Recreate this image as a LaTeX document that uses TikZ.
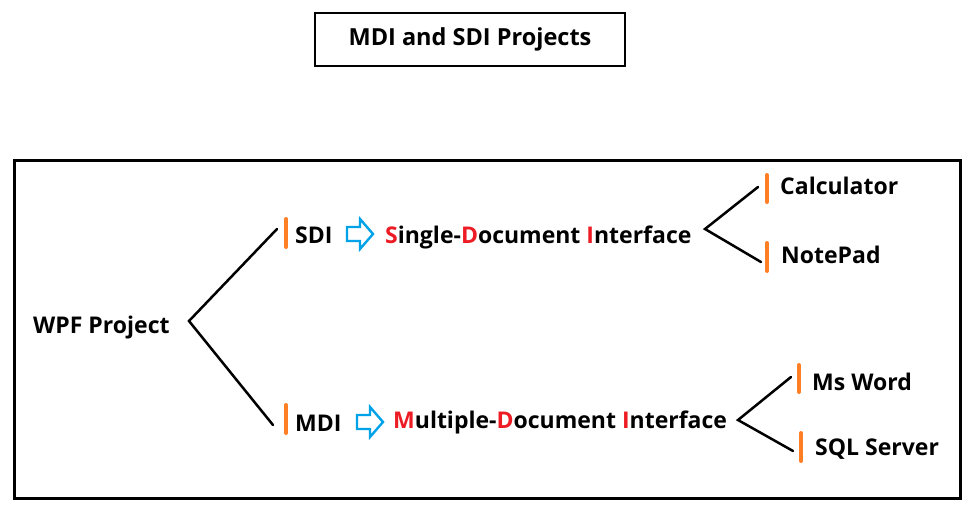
\documentclass[tikz,border=0pt]{standalone}
\usepackage{fontspec}
\setmainfont{Open Sans}
\definecolor{myorange}{HTML}{FF7F27}
\definecolor{myblue}{HTML}{00A2E8}
\definecolor{myred}{HTML}{ED1C24}
\newcommand{\R}[1]{\textcolor{myred}{#1}}
\begin{document}
\begin{tikzpicture}[x=1pt,y=-1pt,
  lbl/.style={anchor=west,inner sep=0pt,yshift=-2pt,font=\fontsize{23}{27}\selectfont\bfseries},
  branch/.style={line width=2.5pt,line cap=round},
  obar/.style={myorange,line width=4pt,line cap=round},
  barrow/.style={myblue,line width=2.4pt,line join=miter}]
\useasboundingbox (0,0) rectangle (977,525);
\fill[white] (0,0) rectangle (977,525);
% title
\node[draw,line width=2.2pt,minimum width=310pt,minimum height=53pt,inner sep=0pt,
  font=\fontsize{23.5}{27}\selectfont\bfseries] (title) at (470,39.5) {MDI and SDI Projects};
% frame
\node[draw,line width=3pt,minimum width=946pt,minimum height=338pt,inner sep=0pt] (frame) at (487,329) {};
% root
\node[lbl] (wpf) at (33,326) {WPF Project};
\coordinate (wv) at (189,321);
\coordinate (wu) at (277,229);
\coordinate (wd) at (273,425);
\draw[branch] (wu) -- (wv) -- (wd);
% SDI
\coordinate (sb1) at (286,219); \coordinate (sb2) at (286,247);
\draw[obar] (sb1) -- (sb2);
\node[lbl] (sdi) at (295,233) {SDI};
\node[lbl] (sdifull) at (385,235) {\R{S}ingle-\R{D}ocument \R{I}nterface};
\draw[barrow] (347,227) -- (360,227) -- (360,219) -- (373,234) -- (360,249) -- (360,241) -- (347,241) -- cycle;
\coordinate (sv) at (705,229);
\coordinate (su) at (758,187);
\coordinate (sd) at (761,262);
\draw[branch] (su) -- (sv) -- (sd);
\draw[obar] (767,175) -- (767,202);
\draw[obar] (767,243) -- (767,271);
\node[lbl] (calc) at (780,184) {Calculator};
\node[lbl] (note) at (781,253) {NotePad};
% MDI
\draw[obar] (286,405) -- (286,433);
\node[lbl] (mdi) at (295,421) {MDI};
\node[lbl] (mdifull) at (393,420) {\R{M}ultiple-\R{D}ocument \R{I}nterface};
\draw[barrow] (357,415) -- (370,415) -- (370,407) -- (383,422) -- (370,437) -- (370,429) -- (357,429) -- cycle;
\coordinate (mv) at (738,420);
\coordinate (mu) at (791,377);
\coordinate (md) at (793,451);
\draw[branch] (mu) -- (mv) -- (md);
\draw[obar] (799,365) -- (799,392);
\draw[obar] (801,433) -- (801,461);
\node[lbl] (word) at (812,380) {Ms Word};
\node[lbl] (sql) at (815,447) {SQL Server};
\end{tikzpicture}
\end{document}
